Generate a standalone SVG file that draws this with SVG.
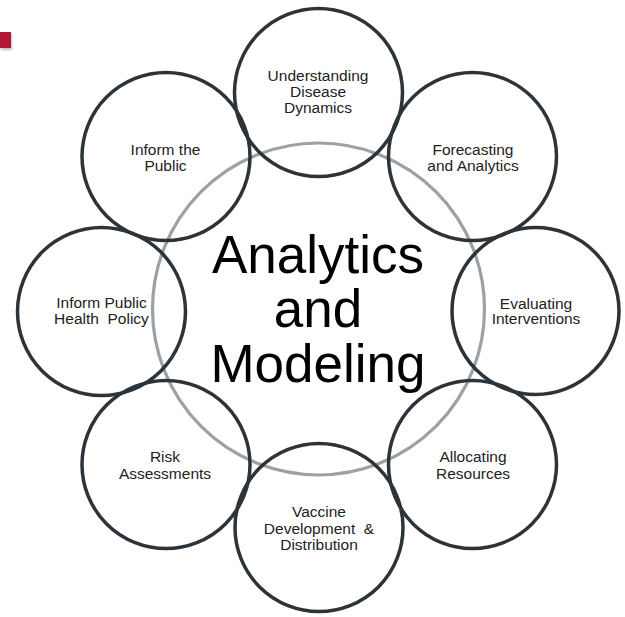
<svg xmlns="http://www.w3.org/2000/svg" width="625" height="617" viewBox="0 0 625 617">
<defs>
<style>
.ring{fill:none;stroke:#2c3339;stroke-width:3.5}
.core{fill:none;stroke:#9da1a3;stroke-width:3.2}
.lbl{font-family:"Liberation Sans",Arial,sans-serif;font-size:15.5px;fill:#222;text-anchor:middle}
.big{font-family:"Liberation Sans",Arial,sans-serif;font-size:53px;fill:#000;text-anchor:middle}
</style>
<filter id="sh" x="-50%" y="-50%" width="200%" height="200%"><feDropShadow dx="1" dy="2" stdDeviation="1.2" flood-color="#000" flood-opacity="0.25"/></filter>
</defs>
<rect width="625" height="617" fill="#fff"/>
<rect x="0" y="32" width="11" height="16" fill="#b31238" filter="url(#sh)"/>
<g id="core">
<circle class="core" cx="318.5" cy="309" r="166"/>
<text class="big" x="318" y="273">Analytics</text>
<text class="big" x="318" y="327">and</text>
<text class="big" x="318" y="382">Modeling</text>
</g>
<g id="connectors"></g>
<g id="n-understanding">
<circle class="ring" cx="318.5" cy="92.5" r="84"/>
<text class="lbl" x="318" y="81">Understanding</text>
<text class="lbl" x="318" y="97">Disease</text>
<text class="lbl" x="318" y="113">Dynamics</text>
</g>
<g id="n-forecasting">
<circle class="ring" cx="472.5" cy="156.5" r="84"/>
<text class="lbl" x="473" y="154.5">Forecasting</text>
<text class="lbl" x="473" y="170.5">and Analytics</text>
</g>
<g id="n-evaluating">
<circle class="ring" cx="535.5" cy="311" r="83.5"/>
<text class="lbl" x="536" y="308.5">Evaluating</text>
<text class="lbl" x="536" y="324">Interventions</text>
</g>
<g id="n-allocating">
<circle class="ring" cx="472.5" cy="464.5" r="84"/>
<text class="lbl" x="473" y="462">Allocating</text>
<text class="lbl" x="473" y="478.5">Resources</text>
</g>
<g id="n-vaccine">
<circle class="ring" cx="319" cy="527.5" r="84"/>
<text class="lbl" x="319" y="517">Vaccine</text>
<text class="lbl" x="319" y="533.5" xml:space="preserve">Development  &amp;</text>
<text class="lbl" x="319" y="550">Distribution</text>
</g>
<g id="n-risk">
<circle class="ring" cx="166" cy="464.5" r="84"/>
<text class="lbl" x="165" y="462">Risk</text>
<text class="lbl" x="165" y="478.5">Assessments</text>
</g>
<g id="n-policy">
<circle class="ring" cx="101.5" cy="311.5" r="84"/>
<text class="lbl" x="101.5" y="307.5">Inform Public</text>
<text class="lbl" x="101.5" y="324" xml:space="preserve">Health  Policy</text>
</g>
<g id="n-public">
<circle class="ring" cx="166" cy="156.5" r="84"/>
<text class="lbl" x="165.5" y="154.5">Inform the</text>
<text class="lbl" x="165.5" y="171">Public</text>
</g>
</svg>
